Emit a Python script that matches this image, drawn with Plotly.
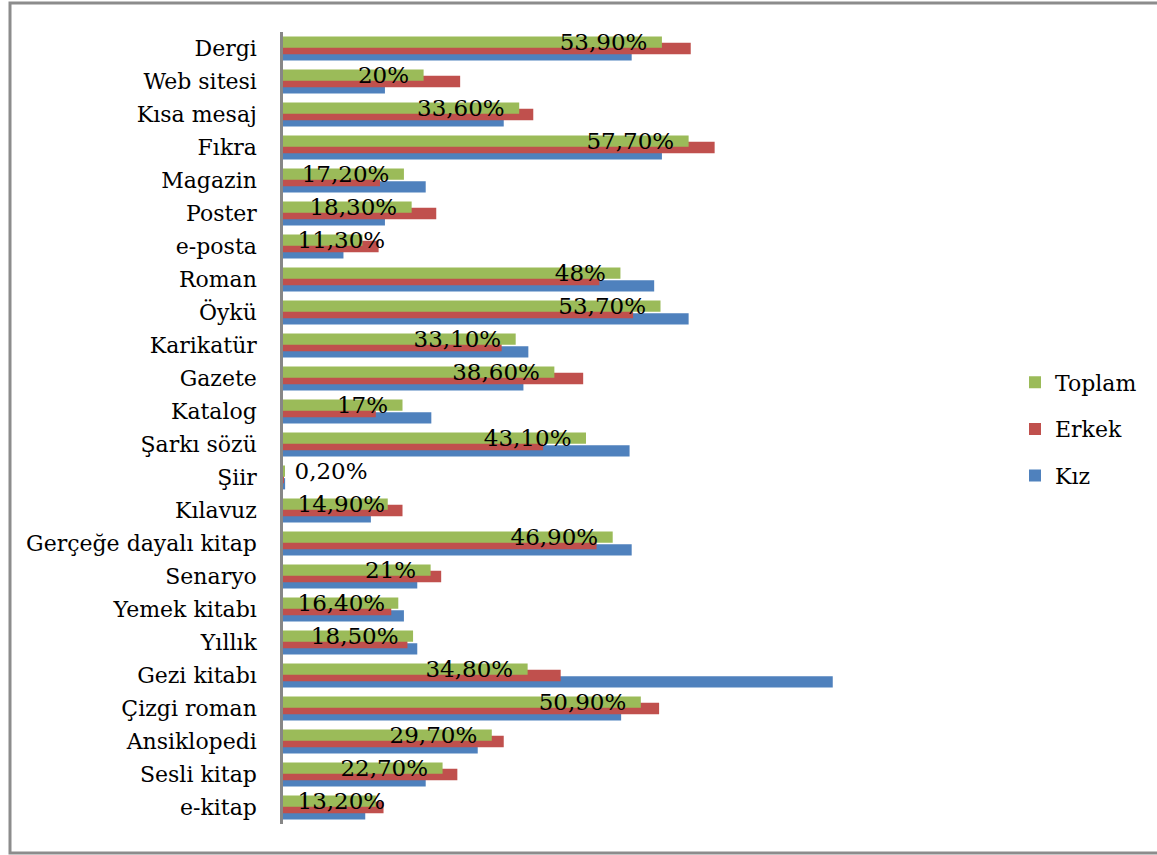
import plotly.graph_objects as go

categories = ["Dergi", "Web sitesi", "Kısa mesaj", "Fıkra", "Magazin", "Poster",
              "e-posta", "Roman", "Öykü", "Karikatür", "Gazete", "Katalog",
              "Şarkı sözü", "Şiir", "Kılavuz", "Gerçeğe dayalı kitap", "Senaryo",
              "Yemek kitabı", "Yıllık", "Gezi kitabı", "Çizgi roman", "Ansiklopedi",
              "Sesli kitap", "e-kitap"]

toplam = [53.9, 20, 33.6, 57.7, 17.2, 18.3, 11.3, 48, 53.7, 33.1, 38.6, 17,
          43.1, 0.2, 14.9, 46.9, 21, 16.4, 18.5, 34.8, 50.9, 29.7, 22.7, 13.2]
erkek = [58.0, 25.2, 35.6, 61.4, 13.8, 21.8, 13.6, 45.0, 49.8, 31.1, 42.7, 13.2,
         37.0, 0.1, 17.0, 44.6, 22.5, 15.4, 17.7, 39.5, 53.5, 31.4, 24.8, 14.3]
kiz = [49.6, 14.5, 31.4, 53.9, 20.3, 14.5, 8.6, 52.8, 57.7, 34.9, 34.2, 21.1,
       49.3, 0.3, 12.5, 49.6, 19.1, 17.2, 19.1, 78.2, 48.1, 27.7, 20.3, 11.7]

series_names = ["Toplam", "Erkek", "Kız"]


def fmt(v):
    if float(v).is_integer():
        return f"{int(v)}%"
    return f"{v:.2f}".replace(".", ",") + "%"


FONT = "DejaVu Serif"
LABEL_SIZE = 23
GREEN, RED, BLUE = "#9BBB59", "#C0504D", "#4F81BD"

BAR_W = 0.342
SHIFT = 0.19

L, T, B = 283, 32, 31
W, H = 1157, 855
PW = 703
PH = H - T - B
X_MAX = 100
PX_PER_UNIT = PW / X_MAX


def text_px(s):
    # rough width of a label in DejaVu Serif
    w = 0
    for ch in s:
        w += 0.636 if ch.isdigit() else (0.318 if ch == "," else 0.95)
    return w * LABEL_SIZE


# Excel-like "inside end" labels: pushed to the bar start when the bar is short
short = [v * PX_PER_UNIT - 15 - text_px(fmt(v)) < 14 for v in toplam]
text_end = ["" if s else fmt(v) + "\u2002" for v, s in zip(toplam, short)]
text_start = ["\u2002" + fmt(v) if s else "" for v, s in zip(toplam, short)]

tf = dict(family=FONT, size=LABEL_SIZE, color="#000000")

fig = go.Figure()

fig.add_trace(go.Bar(
    y=categories, x=kiz, name=series_names[2], orientation="h",
    marker=dict(color=BLUE, line=dict(width=0)),
    width=BAR_W, offset=SHIFT - BAR_W / 2, legendgroup="c", legendrank=3,
    hoverinfo="x+y",
))
fig.add_trace(go.Bar(
    y=categories, x=erkek, name=series_names[1], orientation="h",
    marker=dict(color=RED, line=dict(width=0)),
    width=BAR_W, offset=-BAR_W / 2, legendgroup="b", legendrank=2,
    hoverinfo="x+y",
))
fig.add_trace(go.Bar(
    y=categories, x=toplam, name=series_names[0], orientation="h",
    marker=dict(color=GREEN, line=dict(width=0)),
    width=BAR_W, offset=-SHIFT - BAR_W / 2, legendgroup="a", legendrank=1,
    text=text_end, textposition="inside", insidetextanchor="end",
    constraintext="none", textangle=0, cliponaxis=False,
    textfont=tf, insidetextfont=tf, outsidetextfont=tf,
    hoverinfo="x+y",
))
# labels for short Toplam bars, anchored at the bar start
fig.add_trace(go.Bar(
    y=categories, x=toplam, name=series_names[0], orientation="h",
    marker=dict(color="rgba(0,0,0,0)", line=dict(width=0)),
    width=BAR_W, offset=-SHIFT - BAR_W / 2, legendgroup="a", showlegend=False,
    text=text_start, textposition="inside", insidetextanchor="start",
    constraintext="none", textangle=0, cliponaxis=False,
    textfont=tf, insidetextfont=tf, outsidetextfont=tf,
    hoverinfo="skip",
))


def px_x(px):
    return (px - L) / PW


def px_y(py):
    return 1 - (py - T) / PH


fig.update_layout(
    width=W, height=H,
    margin=dict(l=L, r=W - L - PW, t=T, b=B, pad=0),
    paper_bgcolor="white", plot_bgcolor="white",
    barmode="overlay",
    font=dict(family=FONT, size=22, color="#000000"),
    showlegend=True,
    legend=dict(
        x=px_x(1015), y=px_y(429), xanchor="left", yanchor="middle",
        traceorder="grouped", tracegroupgap=15,
        font=dict(family=FONT, size=22, color="#000000"),
        bgcolor="rgba(0,0,0,0)", borderwidth=0, itemwidth=30,
    ),
    xaxis=dict(range=[0, X_MAX], visible=False, showgrid=False, zeroline=False),
    yaxis=dict(
        type="category", autorange="reversed",
        showline=True, linecolor="#878787", linewidth=2.5,
        ticks="", showgrid=False, zeroline=False,
        ticklabelstandoff=19,
        tickfont=dict(family=FONT, size=22, color="#000000"),
    ),
    shapes=[dict(
        type="rect", xref="paper", yref="paper",
        x0=px_x(10), x1=px_x(1175), y0=px_y(853), y1=px_y(3),
        line=dict(color="#8C8C8C", width=3), fillcolor="rgba(0,0,0,0)",
        layer="above",
    )],
)

fig.write_html("out.html", config={"displayModeBar": False},
               post_script="document.body.style.margin='0';")
